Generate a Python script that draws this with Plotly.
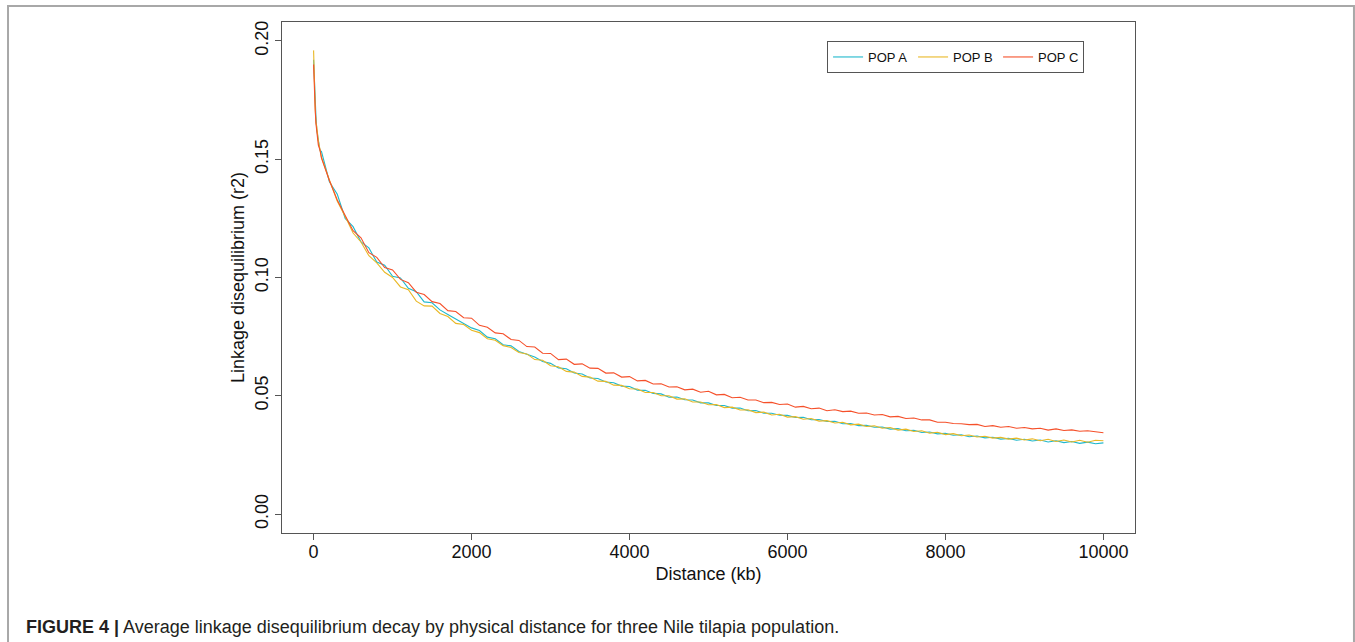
import plotly.graph_objects as go

# Physical distance (kb)
distance_kb = [0, 10, 20, 30, 40, 60, 80,
               100, 200, 300, 400, 500, 600, 700, 800, 900, 1000,
               1100, 1200, 1300, 1400, 1500, 1600, 1700, 1800, 1900, 2000,
               2100, 2200, 2300, 2400, 2500, 2600, 2700, 2800, 2900, 3000,
               3100, 3200, 3300, 3400, 3500, 3600, 3700, 3800, 3900, 4000,
               4100, 4200, 4300, 4400, 4500, 4600, 4700, 4800, 4900, 5000,
               5100, 5200, 5300, 5400, 5500, 5600, 5700, 5800, 5900, 6000,
               6100, 6200, 6300, 6400, 6500, 6600, 6700, 6800, 6900, 7000,
               7100, 7200, 7300, 7400, 7500, 7600, 7700, 7800, 7900, 8000,
               8100, 8200, 8300, 8400, 8500, 8600, 8700, 8800, 8900, 9000,
               9100, 9200, 9300, 9400, 9500, 9600, 9700, 9800, 9900, 10000]

pop_a = [0.192, 0.181, 0.171, 0.168, 0.1625, 0.1580, 0.1538,
         0.1532, 0.1405, 0.1352, 0.1250, 0.1215, 0.1150, 0.1125, 0.1065, 0.1052, 0.1005,
         0.0998, 0.0954, 0.0940, 0.0897, 0.0893, 0.0863, 0.0844, 0.0826, 0.0805, 0.0787,
         0.0776, 0.0748, 0.0741, 0.0716, 0.0711, 0.0687, 0.0676, 0.0664, 0.0645, 0.0637,
         0.0618, 0.0614, 0.0596, 0.0592, 0.0575, 0.0573, 0.0558, 0.0555, 0.0541, 0.0539,
         0.0524, 0.0523, 0.0510, 0.0508, 0.0494, 0.0495, 0.0483, 0.0482, 0.0470, 0.0470,
         0.0459, 0.0459, 0.0448, 0.0448, 0.0437, 0.0438, 0.0426, 0.0426, 0.0418, 0.0417,
         0.0408, 0.0409, 0.0399, 0.0400, 0.0391, 0.0392, 0.0382, 0.0383, 0.0374, 0.0375,
         0.0367, 0.0368, 0.0359, 0.0361, 0.0352, 0.0354, 0.0345, 0.0347, 0.0339, 0.0341,
         0.0333, 0.0335, 0.0327, 0.0330, 0.0322, 0.0325, 0.0317, 0.0320, 0.0312, 0.0316,
         0.0309, 0.0313, 0.0305, 0.0310, 0.0302, 0.0307, 0.0299, 0.0304, 0.0297, 0.0301]

pop_b = [0.196, 0.179, 0.172, 0.1655, 0.1638, 0.1578, 0.1548,
         0.1508, 0.1412, 0.1322, 0.1258, 0.1188, 0.1150, 0.1092, 0.1062, 0.1022, 0.1000,
         0.0960, 0.0948, 0.0900, 0.0880, 0.0879, 0.0848, 0.0835, 0.0806, 0.0801, 0.0777,
         0.0767, 0.0741, 0.0735, 0.0712, 0.0704, 0.0683, 0.0677, 0.0653, 0.0650, 0.0627,
         0.0623, 0.0603, 0.0600, 0.0582, 0.0579, 0.0562, 0.0561, 0.0545, 0.0544, 0.0530,
         0.0529, 0.0514, 0.0514, 0.0500, 0.0500, 0.0486, 0.0487, 0.0474, 0.0474, 0.0462,
         0.0463, 0.0450, 0.0452, 0.0440, 0.0441, 0.0429, 0.0431, 0.0419, 0.0422, 0.0410,
         0.0412, 0.0401, 0.0404, 0.0393, 0.0395, 0.0385, 0.0388, 0.0377, 0.0380, 0.0370,
         0.0373, 0.0363, 0.0366, 0.0355, 0.0359, 0.0349, 0.0352, 0.0342, 0.0346, 0.0336,
         0.0340, 0.0331, 0.0334, 0.0326, 0.0329, 0.0321, 0.0324, 0.0317, 0.0321, 0.0313,
         0.0318, 0.0310, 0.0316, 0.0307, 0.0313, 0.0305, 0.0312, 0.0304, 0.0312, 0.0310]

pop_c = [0.190, 0.177, 0.171, 0.1650, 0.1625, 0.1560, 0.1540,
         0.1505, 0.1410, 0.1328, 0.1262, 0.1198, 0.1168, 0.1105, 0.1085, 0.1042, 0.1032,
         0.0992, 0.0978, 0.0938, 0.0928, 0.0898, 0.0890, 0.0860, 0.0856, 0.0830, 0.0828,
         0.0798, 0.0790, 0.0766, 0.0762, 0.0738, 0.0734, 0.0708, 0.0706, 0.0680, 0.0679,
         0.0653, 0.0655, 0.0633, 0.0635, 0.0617, 0.0616, 0.0596, 0.0597, 0.0579, 0.0581,
         0.0563, 0.0565, 0.0550, 0.0551, 0.0537, 0.0538, 0.0525, 0.0528, 0.0515, 0.0519,
         0.0504, 0.0506, 0.0492, 0.0494, 0.0482, 0.0482, 0.0471, 0.0472, 0.0463, 0.0465,
         0.0452, 0.0455, 0.0445, 0.0448, 0.0437, 0.0441, 0.0433, 0.0435, 0.0426, 0.0427,
         0.0419, 0.0421, 0.0411, 0.0413, 0.0404, 0.0406, 0.0398, 0.0398, 0.0388, 0.0388,
         0.0383, 0.0382, 0.0378, 0.0379, 0.0370, 0.0374, 0.0367, 0.0370, 0.0363, 0.0366,
         0.0360, 0.0363, 0.0355, 0.0360, 0.0353, 0.0356, 0.0350, 0.0352, 0.0347, 0.0344]

series_names = ["POP A", "POP B", "POP C"]
series_colors = ["#1fb8cc", "#e9b826", "#f5502a"]
x_ticks = [0, 2000, 4000, 6000, 8000, 10000]
y_ticks = [0.00, 0.05, 0.10, 0.15, 0.20]

FONT = "Liberation Sans, Arial, Helvetica, sans-serif"

fig = go.Figure()
for name, vals, col in zip(series_names, [pop_a, pop_b, pop_c], series_colors):
    fig.add_trace(go.Scatter(x=distance_kb, y=vals, mode="lines", name=name,
                             line=dict(color=col, width=1.1)))

axis_common = dict(showline=True, mirror=True, linecolor="#555555", linewidth=1,
                   ticks="outside", ticklen=6, tickwidth=1, tickcolor="#555555",
                   showgrid=False, zeroline=False,
                   tickfont=dict(family=FONT, size=18, color="#111111"))

fig.update_xaxes(range=[-400, 10400], tickvals=x_ticks,
                 ticktext=[str(v) for v in x_ticks], ticklabelstandoff=-4,
                 title=dict(text="Distance (kb)", font=dict(family=FONT, size=18, color="#111111"),
                            standoff=6),
                 **axis_common)
fig.update_yaxes(range=[-0.008, 0.208], tickvals=y_ticks,
                 ticktext=["%.2f" % v for v in y_ticks], tickangle=-90,
                 title=dict(text="Linkage disequilibrium (r2)",
                            font=dict(family=FONT, size=18, color="#111111"), standoff=2),
                 **axis_common)

fig.update_layout(
    width=1355, height=642,
    margin=dict(l=282, r=220, t=22, b=109),
    paper_bgcolor="white", plot_bgcolor="white",
    font=dict(family=FONT, color="#111111"),
    legend=dict(orientation="h", x=0.639, y=0.9628, xanchor="left", yanchor="top",
                bordercolor="#555555", borderwidth=1, bgcolor="white",
                font=dict(family=FONT, size=13, color="#111111"),
                itemwidth=30, entrywidth=40, tracegroupgap=0),
    shapes=[dict(type="rect", xref="paper", yref="paper",
                 x0=-0.3212, x1=1.2567, y0=-0.30, y1=1.0313,
                 line=dict(color="#a8a8a8", width=2), fillcolor="rgba(0,0,0,0)",
                 layer="below")],
    annotations=[dict(xref="paper", yref="paper", x=-0.3025, y=-0.184,
                      xanchor="left", yanchor="middle", showarrow=False,
                      text="<b>FIGURE 4 |</b> Average linkage disequilibrium decay by physical distance for three Nile tilapia population.",
                      font=dict(family=FONT, size=18, color="#231f20"))],
)

fig.write_html("out.html", config={"displayModeBar": False},
               post_script="document.body.style.margin='0px';document.body.style.overflow='hidden';")
